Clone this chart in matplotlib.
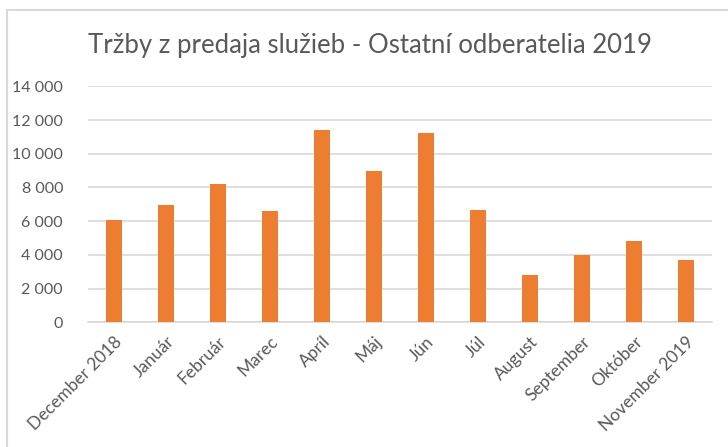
import matplotlib
matplotlib.use("Agg")
import matplotlib.pyplot as plt
from matplotlib.patches import Rectangle
from matplotlib.ticker import FuncFormatter

months = ["December 2018", "Január", "Február", "Marec", "Apríl", "Máj",
          "Jún", "Júl", "August", "September", "Október", "November 2019"]
sales = [6090, 6950, 8190, 6590, 11430, 8960, 11210, 6640, 2790, 3980, 4800, 3680]
y_ticks = [0, 2000, 4000, 6000, 8000, 10000, 12000, 14000]

plt.rcParams['font.family'] = ['Lato', 'DejaVu Sans']

fig = plt.figure(figsize=(7.28, 4.47), dpi=100)
ax = fig.add_axes([88 / 728, 1 - 322.3 / 447, 624 / 728, 236 / 447])

text_color = '#595959'
grid_color = '#D9D9D9'

x = range(len(months))
ax.bar(x, sales, width=0.31, color='#ED7D31', zorder=3)

ax.set_xlim(-0.5, len(months) - 0.5)
ax.set_ylim(0, 14000)
ax.set_yticks(y_ticks)
ax.yaxis.set_major_formatter(FuncFormatter(lambda v, p: f"{int(v):,}".replace(",", " ")))
ax.grid(axis='y', color=grid_color, linewidth=1.2, zorder=0)

for s in ['top', 'right', 'left']:
    ax.spines[s].set_visible(False)
ax.spines['bottom'].set_color(grid_color)
ax.spines['bottom'].set_linewidth(1.2)

ax.set_xticks(list(x))
ax.set_xticklabels(months, rotation=45, ha='right', rotation_mode='anchor')
ax.tick_params(axis='both', length=0, colors=text_color)
ax.tick_params(axis='x', pad=8, labelsize=12.5)
ax.tick_params(axis='y', pad=18, labelsize=11.5)

fig.text(370 / 728, 1 - 45 / 447, "Tržby z predaja služieb - Ostatní odberatelia 2019",
         ha='center', va='center', fontsize=18.5, color=text_color)

fig.patches.append(Rectangle((7 / 728, -0.1), 1.2, (447 - 10) / 447 + 0.1,
                             transform=fig.transFigure, fill=False,
                             edgecolor=grid_color, linewidth=1.5))

fig.savefig("out.png", dpi=100)
